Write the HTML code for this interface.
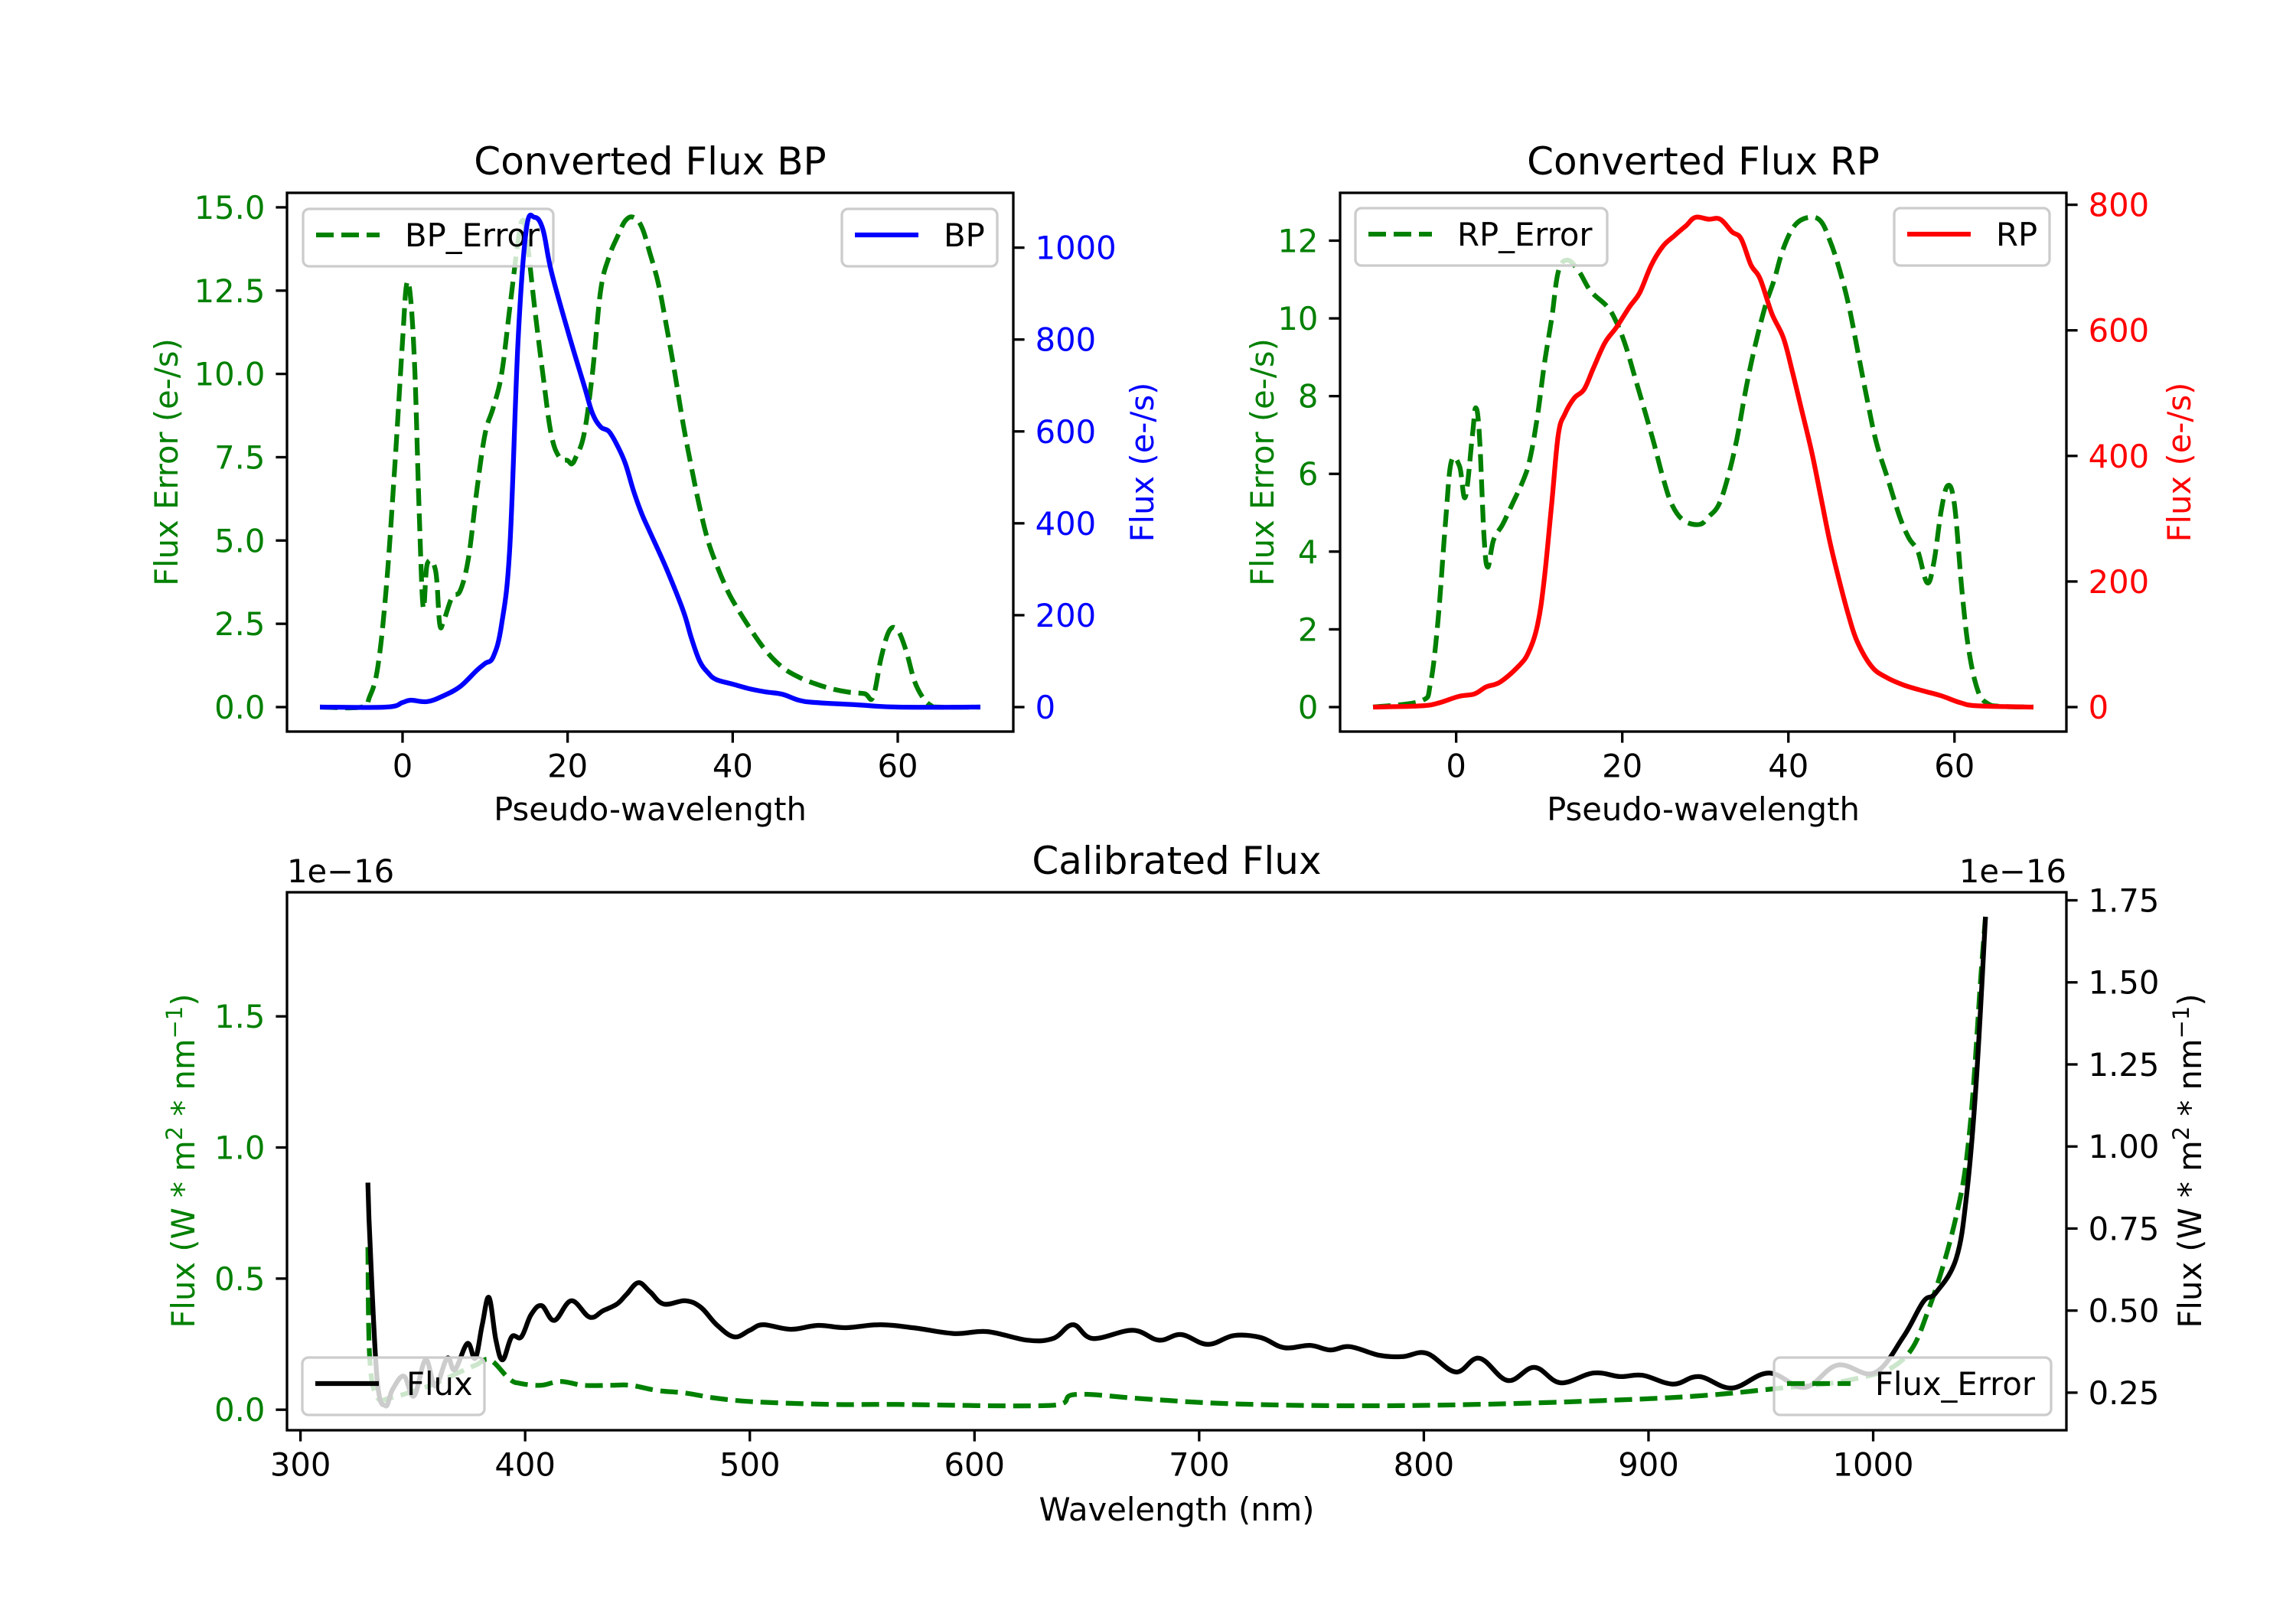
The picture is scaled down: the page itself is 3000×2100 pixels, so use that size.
<!DOCTYPE html>
<html><head><meta charset="utf-8">
<style>
html,body{margin:0;padding:0;background:#fff;}
svg{display:block;font-family:"DejaVu Sans","Liberation Sans",sans-serif;}
</style></head>
<body>
<svg id="fig" width="3000" height="2100" viewBox="0 0 3000 2100" xmlns="http://www.w3.org/2000/svg">
<rect width="3000" height="2100" fill="#fff"/>
</svg>
<script>
// ---------- BP panel data ----------
const bpErrX = [-10,-5,-4,-3,-2,-1,0,0.5,1,1.5,2,2.5,3,4,4.5,5,6,7,8,9,10,11,12,13,14,14.5,15,16,17,18,19,20,20.5,21,22,23,24,25,26,27,28,29,30,31,32,33,34,35,36,37,38,39,40,42,44,46,48,50,52,54,56,57,58,59,60,61,62,63,64,65,70];
const bpErrY = [0,0,0.3,1.2,3.5,7,11,12.7,12.2,10,6,3,4.3,4.1,2.5,2.6,3.3,3.5,4.5,6.5,8.2,9.0,10.0,12,14.0,14.6,14.2,12,10,8.2,7.5,7.4,7.3,7.5,8.2,10,12.5,13.5,14.1,14.6,14.7,14.4,13.6,12.7,11.4,10,8.5,7.2,6.0,5.0,4.3,3.7,3.2,2.4,1.7,1.2,0.9,0.7,0.55,0.45,0.4,0.3,1.5,2.3,2.3,1.7,0.8,0.3,0.05,0,0];
const bpX = [-10,-2,0,1,3,5,7,9,10,11,12,13,14,15,16,17,18,20,22,23,24,25,26,27,28,29,30,32,34,35,36,37,38,40,42,44,46,48,50,55,60,70];
const bpY = [0,0,10,15,12,25,45,80,95,110,180,350,800,1040,1066,1040,950,820,700,640,610,600,570,530,470,420,380,300,210,150,100,75,60,50,40,33,28,15,10,5,0,0];
// ---------- RP panel data ----------
const rpErrX = [-10,-4.2,-3.1,-2.2,-1.3,-0.6,0.4,1.1,1.96,2.35,2.8,3.35,3.8,4.5,5.6,6.7,8.1,8.9,9.8,10.6,11.5,12.3,13.4,14.8,16.2,18.2,19.3,20.4,21.5,22.6,23.8,24.9,26.0,27.4,29.3,30.4,31.6,32.7,33.8,34.9,36.0,37.2,38.3,39.4,40.8,42.5,43.9,45.0,46.1,47.3,48.4,49.5,50.6,52.0,53.4,54.5,55.6,56.7,57.5,58.4,59.2,60.0,60.9,61.7,62.8,64,65.6,69.5];
const rpErrY = [0,0.16,0.6,2.2,4.7,6.3,6.2,5.4,7.0,7.7,7.0,4.4,3.6,4.3,4.7,5.2,5.85,6.4,7.5,8.8,10.0,11.2,11.5,11.2,10.7,10.3,9.9,9.3,8.5,7.7,6.8,5.9,5.2,4.8,4.7,4.9,5.2,5.9,6.9,8.2,9.3,10.3,11.0,11.8,12.4,12.6,12.5,12.0,11.3,10.3,9.1,7.9,6.8,5.85,4.9,4.35,4.0,3.2,3.7,5.05,5.7,5.2,3.0,1.5,0.43,0.09,0.02,0];
const rpX = [-10,-4.2,-2,0.3,2.2,3.6,5.3,7.5,8.7,9.8,10.6,11.5,12.3,13.1,14.2,15.4,16.5,17.9,19.3,20.9,22.1,23.5,24.9,26.3,27.7,28.8,30.4,31.8,33.2,34.3,35.5,36.6,38.0,39.4,40.5,41.6,42.8,43.9,45.0,46.1,47.2,48.3,50.0,51.7,53.9,56.2,58.4,60.7,62.8,69.5];
const rpY = [0,2,7,17,21,32,40,65,87,131,203,324,434,467,492,506,539,580,605,638,660,704,734,751,767,780,777,777,757,746,704,682,627,588,533,473,407,335,263,203,148,104,65,48,35,26,18,7,2,0];
// ---------- Calibrated flux data (units of 1e-16) ----------
const calX = [330,330.5,334,337.8,341,346,350.5,355.7,360,365.3,368.7,374.3,377.8,380.9,383.9,387,390,394,398.3,402.6,407.3,413,420.5,428.7,434.8,440.9,445.2,450.4,455.6,461.7,471.3,478.2,485.2,493,500,506,518.2,530.4,542.5,558.2,573.5,591,605.7,623.4,635,643.8,652.7,670.4,682,692,703.8,715.4,727.3,737.8,749.4,758.3,767.2,780,790.7,801.2,814.2,824.7,837.3,849.2,860.8,875.5,887.4,897.3,910.9,922.5,937.1,953.5,969.5,984.1,1000.5,1013.4,1022.3,1028,1037,1041.7,1045.8,1050];
const calFlux = [0.89,0.78,0.30,0.21,0.26,0.30,0.24,0.35,0.27,0.355,0.32,0.40,0.355,0.457,0.54,0.41,0.35,0.42,0.42,0.487,0.515,0.47,0.53,0.48,0.50,0.52,0.55,0.585,0.557,0.52,0.53,0.51,0.457,0.42,0.44,0.457,0.443,0.455,0.448,0.457,0.447,0.43,0.436,0.41,0.415,0.457,0.415,0.44,0.41,0.427,0.397,0.424,0.418,0.387,0.394,0.38,0.39,0.364,0.36,0.37,0.313,0.355,0.287,0.327,0.28,0.31,0.299,0.303,0.276,0.299,0.264,0.31,0.266,0.334,0.31,0.42,0.527,0.555,0.66,0.86,1.19,1.70];
const calErrX = [330,330.8,334,340,350,360,370,378,384.4,393,398,407,415.7,426,438,447,459,471,485,502.5,537,565,635,645,676,713,767,823,880,921,955,990,1013,1025,1037,1043,1048,1050];
const calErr = [0.62,0.2,0.05,0.045,0.07,0.1,0.14,0.17,0.19,0.117,0.10,0.093,0.108,0.093,0.093,0.093,0.073,0.064,0.044,0.03,0.02,0.02,0.017,0.058,0.041,0.023,0.015,0.02,0.035,0.052,0.079,0.114,0.19,0.39,0.74,1.07,1.66,1.88];
// ---------- tick labels ----------
const bpLeftTicks = [0,2.5,5,7.5,10,12.5,15];
const bpRightTicks = [0,200,400,600,800,1000];
const rpLeftTicks = [0,2,4,6,8,10,12];
const rpRightTicks = [0,200,400,600,800];
const pseudoTicks = [0,20,40,60];
const calXTicks = [300,400,500,600,700,800,900,1000];
const calLeftTicks = [0,0.5,1.0,1.5];
const calRightTicks = [0.25,0.5,0.75,1.0,1.25,1.5,1.75];

const NS = 'http://www.w3.org/2000/svg';
const svg = document.getElementById('fig');
function mk(tag, attrs, parent){
  const e = document.createElementNS(NS, tag);
  for (const k in attrs) e.setAttribute(k, attrs[k]);
  (parent||svg).appendChild(e);
  return e;
}
function range(arr){ let mn=Math.min(...arr), mx=Math.max(...arr); const d=(mx-mn)||1; return [mn-0.05*d, mx+0.05*d]; }
function scale(d0,d1,p0,p1){ return v => p0 + (v-d0)/(d1-d0)*(p1-p0); }
const FS = 41.7, TL = 14.6, LW = 6.25, SW = 3.3;

function line(xs, ys, sx, sy, color, dashed, name){
  const P = xs.map((x,i)=>[sx(x), sy(ys[i])]);
  let d = 'M' + P[0][0].toFixed(1) + ',' + P[0][1].toFixed(1);
  const t = 0.18;
  for (let i=0;i<P.length-1;i++){
    const p0 = P[i-1]||P[i], p1 = P[i], p2 = P[i+1], p3 = P[i+2]||P[i+1];
    const c1 = [p1[0]+(p2[0]-p0[0])*t, p1[1]+(p2[1]-p0[1])*t];
    const c2 = [p2[0]-(p3[0]-p1[0])*t, p2[1]-(p3[1]-p1[1])*t];
    // keep control points within x-interval to avoid loops
    c1[0] = Math.min(Math.max(c1[0], p1[0]), p2[0]);
    c2[0] = Math.min(Math.max(c2[0], p1[0]), p2[0]);
    d += 'C' + c1[0].toFixed(1)+','+c1[1].toFixed(1)+' '+c2[0].toFixed(1)+','+c2[1].toFixed(1)+' '+p2[0].toFixed(1)+','+p2[1].toFixed(1);
  }
  const p = mk('path', {d:d, fill:'none', stroke:color, 'stroke-width':LW, 'stroke-linejoin':'round'});
  if (dashed) p.setAttribute('stroke-dasharray','23,10');
  
  
  return p;
}
function fmt(v, dec){ return v.toFixed(dec); }
function yTicks(ticks, sy, x, side, color, dec, name){
  const g = mk('g', {});
  
  
  ticks.forEach(t=>{
    const y = sy(t);
    const x2 = side==='left' ? x-TL : x+TL;
    mk('line', {x1:x, y1:y, x2:x2, y2:y, stroke:'#000', 'stroke-width':SW}, g);
    const tx = mk('text', {x: side==='left' ? x-TL-14 : x+TL+14, y: y+15, 'font-size':FS, fill:color, 'text-anchor': side==='left'?'end':'start'}, g);
    tx.textContent = fmt(t, dec);
  });
}
function xTicks(ticks, sx, y, name){
  const g = mk('g', {});
  
  
  ticks.forEach(t=>{
    const x = sx(t);
    mk('line', {x1:x, y1:y, x2:x, y2:y+TL, stroke:'#000', 'stroke-width':SW}, g);
    const tx = mk('text', {x:x, y:y+TL+14+31, 'font-size':FS, fill:'#000', 'text-anchor':'middle'}, g);
    tx.textContent = t;
  });
}
function frame(L,T,R,B,name){
  const r = mk('rect', {x:L, y:T, width:R-L, height:B-T, fill:'none', stroke:'#000', 'stroke-width':SW});
  
  
}
function text(x,y,s,opts,name){
  const t = mk('text', Object.assign({x:x, y:y, 'font-size':FS, fill:'#000', 'text-anchor':'middle'}, opts||{}));
  t.textContent = s;
  
  
  return t;
}
function legend(x,y,w,label,color,dashed,name){
  const g = mk('g', {});
  
  
  mk('rect', {x:x, y:y, width:w, height:75, rx:8, fill:'#fff', 'fill-opacity':0.8, stroke:'#cccccc', 'stroke-width':SW}, g);
  const hy = y+34;
  const h = mk('line', {x1:x+17, y1:hy, x2:x+100, y2:hy, stroke:color, 'stroke-width':LW}, g);
  if (dashed) h.setAttribute('stroke-dasharray','23,10');
  const t = mk('text', {x: x+133, y: hy+15, 'font-size':FS, fill:'#000'}, g);
  t.textContent = label;
}

// ===== Panel 1: BP =====
(function(){
  const L=375,R=1324,T=252,B=956;
  const xr = range(bpErrX.concat(bpX));
  const sx = scale(xr[0],xr[1],L,R);
  const yl = range(bpErrY), yr = range(bpY);
  const syl = scale(yl[0],yl[1],B,T), syr = scale(yr[0],yr[1],B,T);
  line(bpErrX,bpErrY,sx,syl,'#008000',true,'bp-error-line');
  legend(396,273,327,'BP_Error','#008000',true,'legend-bp-error');
  line(bpX,bpY,sx,syr,'#0000ff',false,'bp-flux-line');
  legend(1100,273,203,'BP','#0000ff',false,'legend-bp');
  frame(L,T,R,B,'bp-axes-frame');
  yTicks(bpLeftTicks,syl,L,'left','#008000',1,'bp-left-y-ticks');
  yTicks(bpRightTicks,syr,R,'right','#0000ff',0,'bp-right-y-ticks');
  xTicks(pseudoTicks,sx,B,'bp-x-ticks');
  text((L+R)/2,228,'Converted Flux BP',{'font-size':50},'bp-title');
  text((L+R)/2,1084-12,'Pseudo-wavelength',{},'bp-x-label');
  text(0,0,'Flux Error (e-/s)',{fill:'#008000',transform:'translate(232,604) rotate(-90)'},'bp-left-y-label');
  text(0,0,'Flux (e-/s)',{fill:'#0000ff',transform:'translate(1507,604) rotate(-90)'},'bp-right-y-label');
})();

// ===== Panel 2: RP =====
(function(){
  const L=1751,R=2700,T=252,B=956;
  const xr = range(rpErrX.concat(rpX));
  const sx = scale(xr[0],xr[1],L,R);
  const yl = range(rpErrY), yr = range(rpY);
  const syl = scale(yl[0],yl[1],B,T), syr = scale(yr[0],yr[1],B,T);
  line(rpErrX,rpErrY,sx,syl,'#008000',true,'rp-error-line');
  legend(1771,272,329,'RP_Error','#008000',true,'legend-rp-error');
  line(rpX,rpY,sx,syr,'#ff0000',false,'rp-flux-line');
  legend(2475,272,203,'RP','#ff0000',false,'legend-rp');
  frame(L,T,R,B,'rp-axes-frame');
  yTicks(rpLeftTicks,syl,L,'left','#008000',0,'rp-left-y-ticks');
  yTicks(rpRightTicks,syr,R,'right','#ff0000',0,'rp-right-y-ticks');
  xTicks(pseudoTicks,sx,B,'rp-x-ticks');
  text((L+R)/2,228,'Converted Flux RP',{'font-size':50},'rp-title');
  text((L+R)/2,1084-12,'Pseudo-wavelength',{},'rp-x-label');
  text(0,0,'Flux Error (e-/s)',{fill:'#008000',transform:'translate(1664,604) rotate(-90)'},'rp-left-y-label');
  text(0,0,'Flux (e-/s)',{fill:'#ff0000',transform:'translate(2862,604) rotate(-90)'},'rp-right-y-label');
})();

// ===== Panel 3: Calibrated flux =====
(function(){
  const L=375,R=2700,T=1166,B=1869;
  const xr = range(calX.concat(calErrX));
  const sx = scale(xr[0],xr[1],L,R);
  const yl = range(calErr), yr = range(calFlux);
  const syl = scale(yl[0],yl[1],B,T), syr = scale(yr[0],yr[1],B,T);
  line(calErrX,calErr,sx,syl,'#008000',true,'flux-error-line');
  line(calX,calFlux,sx,syr,'#000000',false,'flux-line');
  legend(2318,1774,362,'','#008000',true,'legend-flux-error');
  text(2659,1823,'Flux_Error',{'text-anchor':'end'},'legend-flux-error-label');
  legend(395,1774,238,'','#000000',false,'legend-flux');
  text(531,1823,'Flux',{'text-anchor':'start'},'legend-flux-label');
  frame(L,T,R,B,'calibrated-axes-frame');
  yTicks(calLeftTicks,syl,L,'left','#008000',1,'cal-left-y-ticks');
  yTicks(calRightTicks,syr,R,'right','#000000',2,'cal-right-y-ticks');
  xTicks(calXTicks,sx,B,'cal-x-ticks');
  text((L+R)/2,1142,'Calibrated Flux',{'font-size':50},'cal-title');
  text(375,1167-14,'1e\u221216',{'text-anchor':'start'},'left-offset-text');
  text(2700,1167-14,'1e\u221216',{'text-anchor':'end'},'right-offset-text');
  text((L+R)/2,1987,'Wavelength (nm)',{},'cal-x-label');
  const l1 = text(0,0,'',{fill:'#008000',transform:'translate(254,1517) rotate(-90)'},'cal-left-y-label');
  l1.innerHTML = 'Flux (W * m<tspan font-size="29" dy="-16">2</tspan><tspan dy="16"> * nm</tspan><tspan font-size="29" dy="-16">\u22121</tspan><tspan dy="16">)</tspan>';
  const l2 = text(0,0,'',{fill:'#000',transform:'translate(2876,1517) rotate(-90)'},'cal-right-y-label');
  l2.innerHTML = 'Flux (W * m<tspan font-size="29" dy="-16">2</tspan><tspan dy="16"> * nm</tspan><tspan font-size="29" dy="-16">\u22121</tspan><tspan dy="16">)</tspan>';
})();
</script>
</body></html>
